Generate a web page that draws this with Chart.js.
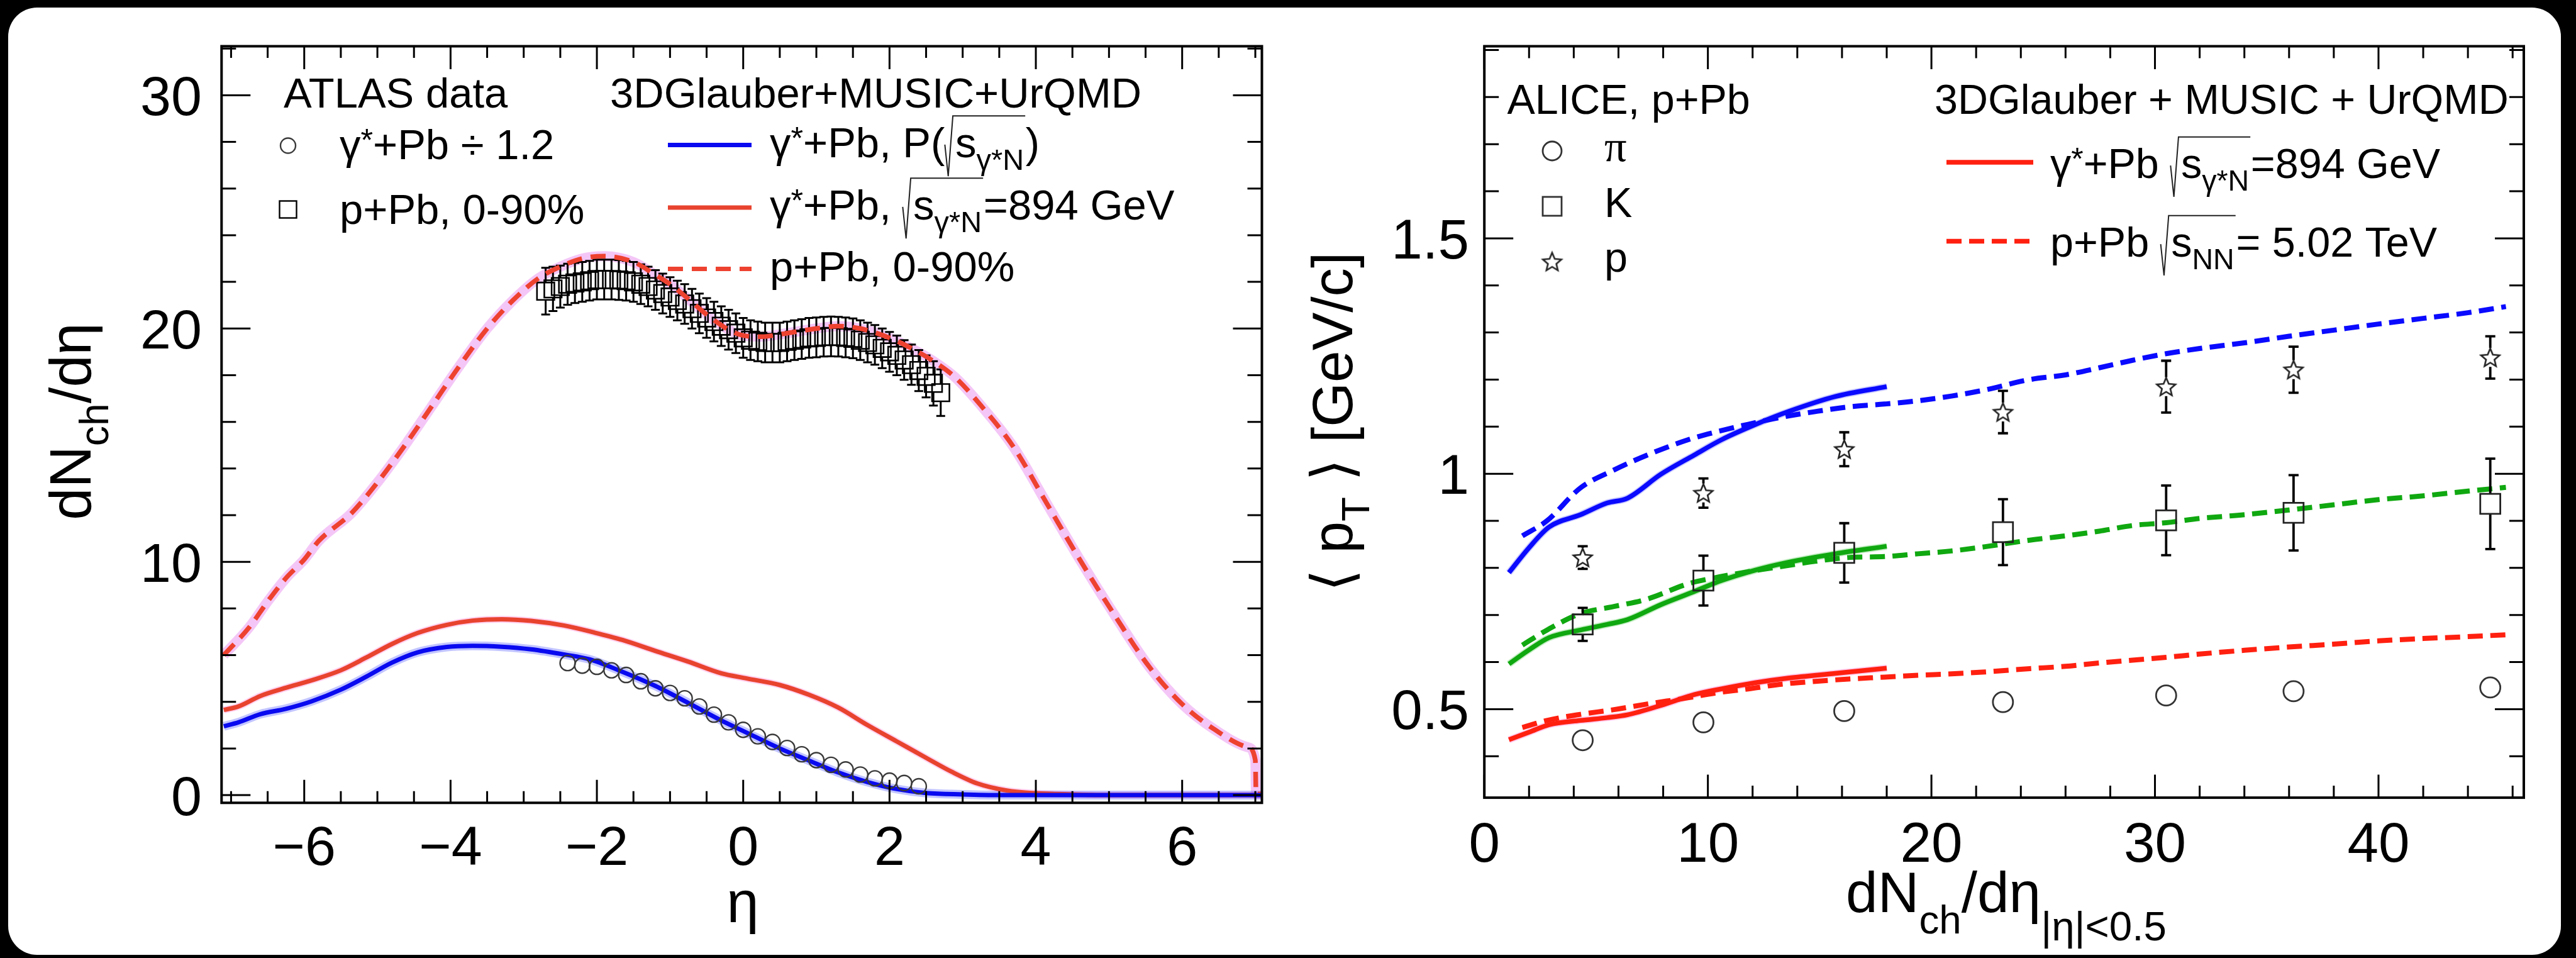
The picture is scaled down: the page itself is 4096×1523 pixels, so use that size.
<!DOCTYPE html>
<html>
<head>
<meta charset="utf-8">
<script src="https://cdn.jsdelivr.net/npm/chart.js@4.4.1/dist/chart.umd.min.js"></script>
<style>
  html, body { margin:0; padding:0; width:4096px; height:1523px; background:#000; overflow:hidden; }
  #panel { position:absolute; left:13px; top:12px; width:4059px; height:1506px; background:#fff; border-radius:46px; }
  canvas { position:absolute; left:0; top:0; }
</style>
</head>
<body>
<div id="panel"></div>
<canvas id="leftChart" width="4096" height="1523"></canvas>
<canvas id="rightChart" width="4096" height="1523"></canvas>
<script>
// ================= DATA: left panel (dNch/deta vs eta) =================
const etaPPbModel   = [-7.1,-6.75,-6.5,-6.25,-6.0,-5.8,-5.35,-5.0,-4.6,-4.25,-3.9,-3.5,-3.15,-2.8,-2.5,-2.2,-1.9,-1.5,-1.2,-1.0,-0.8,-0.5,-0.2,0.0,0.25,0.5,1.0,1.3,1.6,2.0,2.3,2.6,2.9,3.25,3.7,4.15,4.6,5.1,5.55,6.0,6.45,6.9,7.0,7.01,7.09];
const dndetaPPbModel = [6.0,7.2,8.3,9.3,10.1,10.9,12.1,13.4,15.1,16.7,18.3,20.0,21.2,22.15,22.65,23.0,23.1,22.85,22.3,21.9,21.4,20.6,19.95,19.7,19.65,19.75,20.0,20.1,20.0,19.6,19.15,18.6,17.9,16.7,14.9,12.5,10.1,7.6,5.5,3.9,2.8,2.05,1.5,0.05,0.05];

const etaGamma894    = [-7.1,-6.9,-6.6,-6.25,-5.9,-5.5,-5.15,-4.8,-4.45,-4.05,-3.7,-3.3,-2.9,-2.45,-2.05,-1.65,-1.2,-0.75,-0.3,0.05,0.5,0.9,1.3,1.7,2.1,2.5,2.85,3.2,3.6,4.0,4.5,5.0,7.09];
const dndetaGamma894 = [3.65,3.8,4.25,4.6,4.92,5.35,5.9,6.48,6.95,7.3,7.48,7.54,7.47,7.27,6.98,6.65,6.18,5.72,5.22,5.0,4.72,4.3,3.75,3.0,2.3,1.6,1.0,0.5,0.2,0.08,0.03,0.0,0.0];

const etaGammaP    = [-7.1,-6.9,-6.6,-6.25,-5.9,-5.5,-5.15,-4.8,-4.45,-4.05,-3.7,-3.3,-2.9,-2.45,-2.1,-1.7,-1.2,-0.75,-0.3,0.0,0.5,0.9,1.3,1.7,2.1,2.5,3.0,3.5,7.09];
const dndetaGammaP = [2.95,3.12,3.47,3.7,4.02,4.52,5.08,5.68,6.12,6.35,6.4,6.36,6.25,6.03,5.82,5.35,4.68,3.95,3.2,2.75,2.0,1.48,0.97,0.56,0.26,0.09,0.03,0.0,0.0];

const etaAtlasGamma    = [-2.4,-2.2,-2.0,-1.8,-1.6,-1.4,-1.2,-1.0,-0.8,-0.6,-0.4,-0.2,0.0,0.2,0.4,0.6,0.8,1.0,1.2,1.4,1.6,1.8,2.0,2.2,2.4];
const dndetaAtlasGamma = [5.66,5.55,5.5,5.35,5.15,4.88,4.58,4.38,4.15,3.8,3.45,3.12,2.8,2.52,2.28,2.02,1.75,1.5,1.3,1.1,0.88,0.72,0.62,0.52,0.38];

const etaAtlasPPb    = [-2.7,-2.6,-2.5,-2.4,-2.3,-2.2,-2.1,-2.0,-1.9,-1.8,-1.7,-1.6,-1.5,-1.4,-1.3,-1.2,-1.1,-1.0,-0.9,-0.8,-0.7,-0.6,-0.5,-0.4,-0.3,-0.2,-0.1,0.0,0.1,0.2,0.3,0.4,0.5,0.6,0.7,0.8,0.9,1.0,1.1,1.2,1.3,1.4,1.5,1.6,1.7,1.8,1.9,2.0,2.1,2.2,2.3,2.4,2.5,2.6,2.7];
const dndetaAtlasPPb = [21.6,21.7,21.8,21.9,21.95,22.0,22.05,22.1,22.1,22.1,22.08,22.05,22.0,21.9,21.8,21.65,21.5,21.35,21.2,21.05,20.85,20.65,20.45,20.3,20.1,19.95,19.8,19.6,19.5,19.45,19.4,19.4,19.4,19.45,19.5,19.55,19.6,19.62,19.65,19.66,19.65,19.62,19.58,19.5,19.4,19.3,19.15,19.0,18.85,18.65,18.45,18.2,17.95,17.65,17.25];
const errAtlasPPb    = [1.0,0.95,0.9,0.88,0.86,0.85,0.85,0.85,0.85,0.85,0.85,0.85,0.85,0.85,0.85,0.85,0.85,0.85,0.85,0.85,0.85,0.85,0.85,0.85,0.85,0.85,0.85,0.85,0.85,0.85,0.85,0.85,0.85,0.85,0.85,0.85,0.85,0.85,0.85,0.85,0.85,0.85,0.85,0.85,0.85,0.85,0.85,0.85,0.85,0.85,0.86,0.88,0.9,0.95,1.0];

const leftXTickValues = [-6,-4,-2,0,2,4,6];
const leftXTickLabels = ['\u22126','\u22124','\u22122','0','2','4','6'];
const leftYTickValues = [0,10,20,30];
const leftYTickLabels = ['0','10','20','30'];

// ================= DATA: right panel (<pT> vs dNch/deta) =================
const nchAlice   = [4.4, 9.8, 16.1, 23.2, 30.5, 36.2, 45.0];
const ptPion     = [0.434, 0.472, 0.496, 0.515, 0.529, 0.538, 0.546];
const ptKaon     = [0.680, 0.773, 0.832, 0.876, 0.901, 0.917, 0.936];
const errKaon    = [0.035, 0.053, 0.063, 0.070, 0.074, 0.080, 0.096];
const ptProton   = [0.822, 0.959, 1.052, 1.131, 1.185, 1.221, 1.247];
const errProton  = [0.024, 0.031, 0.036, 0.045, 0.055, 0.049, 0.045];

const nchGamma        = [1.1, 2.0, 2.9, 4.3, 5.5, 6.4, 7.9, 9.4, 10.6, 12.1, 13.6, 15.7, 18.0];
const ptGammaPion     = [0.435, 0.451, 0.467, 0.476, 0.482, 0.488, 0.508, 0.531, 0.543, 0.556, 0.566, 0.576, 0.587];
const ptGammaKaon     = [0.596, 0.626, 0.652, 0.668, 0.680, 0.690, 0.722, 0.750, 0.773, 0.795, 0.812, 0.830, 0.846];
const ptGammaProton   = [0.790, 0.843, 0.887, 0.913, 0.938, 0.948, 0.999, 1.040, 1.072, 1.104, 1.132, 1.164, 1.185];

const nchPPb        = [1.7, 2.8, 4.3, 5.8, 7.3, 9.1, 10.3, 11.8, 13.3, 14.8, 16.3, 17.9, 19.4, 20.9, 22.4, 24.4, 26.0, 27.5, 29.0, 30.5, 32.0, 34.0, 36.0, 38.0, 40.0, 42.0, 44.0, 45.7];
const ptPPbPion     = [0.461, 0.476, 0.489, 0.499, 0.511, 0.524, 0.534, 0.543, 0.553, 0.559, 0.564, 0.568, 0.572, 0.575, 0.579, 0.586, 0.591, 0.598, 0.604, 0.610, 0.617, 0.625, 0.632, 0.638, 0.645, 0.650, 0.654, 0.658];
const ptPPbKaon     = [0.636, 0.668, 0.703, 0.718, 0.734, 0.766, 0.779, 0.792, 0.803, 0.814, 0.822, 0.824, 0.830, 0.836, 0.845, 0.859, 0.868, 0.878, 0.890, 0.896, 0.905, 0.913, 0.923, 0.934, 0.945, 0.953, 0.963, 0.971];
const ptPPbProton   = [0.868, 0.900, 0.970, 1.008, 1.040, 1.072, 1.088, 1.105, 1.120, 1.132, 1.142, 1.148, 1.155, 1.165, 1.178, 1.200, 1.210, 1.225, 1.241, 1.255, 1.266, 1.278, 1.292, 1.305, 1.318, 1.330, 1.342, 1.355];

const rightXTickValues = [0,10,20,30,40];
const rightXTickLabels = ['0','10','20','30','40'];
const rightYTickValues = [0.5,1,1.5];
const rightYTickLabels = ['0.5','1','1.5'];

// ================= helpers =================
const FONT  = '"Liberation Sans", Arial, Helvetica, "DejaVu Sans", sans-serif';
const SERIF = '"Liberation Serif", "Times New Roman", "DejaVu Serif", serif';
const xy = (xs, ys) => xs.map((x, i) => ({ x, y: ys[i] }));

function drawRich(ctx, segs, x, y, size, doDraw = true) {
  let cx = x;
  for (const seg of segs) {
    const [type, content, opt] = seg;
    if (type === 'sqrt') {
      const x0 = cx;
      const innerStart = x0 + size * 0.25;
      const innerEnd = drawRich(ctx, content, innerStart, y, size, doDraw);
      if (doDraw) {
        ctx.save();
        ctx.lineWidth = Math.max(1.6, size * 0.03);
        ctx.strokeStyle = '#222';
        ctx.beginPath();
        ctx.moveTo(x0, y - size * 0.30);
        ctx.lineTo(x0 + size * 0.08, y + size * 0.45);
        ctx.lineTo(x0 + size * 0.19, y - size * 0.98);
        ctx.lineTo(innerEnd + size * 0.03, y - size * 0.98);
        ctx.stroke();
        ctx.restore();
      }
      cx = innerEnd + size * 0.04;
      continue;
    }
    let s = size, dy = 0, fam = FONT;
    if (type === 'sub') { s = size * ((opt && opt.s) || 0.7); dy = size * ((opt && opt.dy) || 0.3); }
    else if (type === 'sup') { s = size * 0.75; dy = -size * 0.2; }
    else if (type === 'serif') { fam = SERIF; }
    ctx.font = `${s}px ${fam}`;
    if (doDraw) ctx.fillText(content, cx, y + dy);
    cx += ctx.measureText(content).width;
  }
  return cx;
}
function richWidth(ctx, segs, size) { return drawRich(ctx, segs, 0, 0, size, false); }
function drawRichCentered(ctx, segs, cx, y, size) { const w = richWidth(ctx, segs, size); drawRich(ctx, segs, cx - w / 2, y, size); }
function drawRichRotated(ctx, segs, bx, cy, size) {
  const w = richWidth(ctx, segs, size);
  ctx.save(); ctx.translate(bx, cy); ctx.rotate(-Math.PI / 2);
  drawRich(ctx, segs, -w / 2, 0, size);
  ctx.restore();
}

function makeStar(R, lw, color) {
  const c = document.createElement('canvas');
  const S = Math.ceil(2 * R + 2 * lw + 4);
  c.width = S; c.height = S;
  const g = c.getContext('2d');
  const cx = S / 2, cy = S / 2 + R * 0.08, r = R * 0.45;
  g.beginPath();
  for (let i = 0; i < 10; i++) {
    const ang = -Math.PI / 2 + i * Math.PI / 5;
    const rr = i % 2 === 0 ? R : r;
    const px = cx + rr * Math.cos(ang), py = cy + rr * Math.sin(ang);
    if (i) g.lineTo(px, py); else g.moveTo(px, py);
  }
  g.closePath(); g.lineWidth = lw; g.strokeStyle = color; g.stroke();
  return c;
}
const starImg = makeStar(15.5, 2.6, '#222');

function drawAxes(chart, spec) {
  const { ctx, chartArea: a } = chart;
  const xs = chart.scales.x, ys = chart.scales.y;
  const eps = 1e-6;
  ctx.save();
  ctx.strokeStyle = '#000';
  ctx.lineWidth = spec.tickWidth;
  ctx.beginPath();
  for (let k = Math.ceil(xs.min / spec.xMinor - eps); k * spec.xMinor <= xs.max + eps; k++) {
    const v = k * spec.xMinor;
    const major = Math.abs(v / spec.xMajor - Math.round(v / spec.xMajor)) < 1e-6;
    const L = major ? spec.xMajLen : spec.xMinLen;
    const px = xs.getPixelForValue(v);
    ctx.moveTo(px, a.bottom); ctx.lineTo(px, a.bottom - L);
    ctx.moveTo(px, a.top); ctx.lineTo(px, a.top + L);
  }
  for (let k = Math.ceil(ys.min / spec.yMinor - eps); k * spec.yMinor <= ys.max + eps; k++) {
    const v = k * spec.yMinor;
    const major = Math.abs(v / spec.yMajor - Math.round(v / spec.yMajor)) < 1e-6;
    const L = major ? spec.yMajLen : spec.yMinLen;
    const py = ys.getPixelForValue(v);
    ctx.moveTo(a.left, py); ctx.lineTo(a.left + L, py);
    ctx.moveTo(a.right, py); ctx.lineTo(a.right - L, py);
  }
  ctx.stroke();
  ctx.lineWidth = spec.frameWidth;
  ctx.strokeRect(a.left, a.top, a.right - a.left, a.bottom - a.top);

  ctx.fillStyle = '#000';
  ctx.textBaseline = 'alphabetic';
  ctx.font = `${spec.labelSize}px ${FONT}`;
  ctx.textAlign = 'center';
  spec.xTickValues.forEach((v, i) => ctx.fillText(spec.xTickLabels[i], xs.getPixelForValue(v), spec.xLabelBaseline));
  ctx.textAlign = 'right';
  spec.yTickValues.forEach((v, i) => ctx.fillText(spec.yTickLabels[i], spec.yLabelRight, ys.getPixelForValue(v) + spec.labelSize * 0.358));
  ctx.textAlign = 'left';
  ctx.restore();
}

const errorBarPlugin = {
  id: 'errBars',
  beforeDatasetDraw(chart, args) {
    const ds = chart.data.datasets[args.index];
    if (!ds.yErr) return;
    const { ctx } = chart; const xs = chart.scales.x, ys = chart.scales.y;
    ctx.save();
    ctx.strokeStyle = '#000'; ctx.lineWidth = ds.errWidth;
    ctx.beginPath();
    ds.data.forEach((p, i) => {
      const e = ds.yErr[i]; if (!e) return;
      const px = xs.getPixelForValue(p.x), py = ys.getPixelForValue(p.y);
      const yt = ys.getPixelForValue(p.y + e), yb = ys.getPixelForValue(p.y - e);
      const g = ds.errGap, c = ds.capHalf;
      if (py - g > yt) { ctx.moveTo(px, py - g); ctx.lineTo(px, yt); }
      if (py + g < yb) { ctx.moveTo(px, py + g); ctx.lineTo(px, yb); }
      ctx.moveTo(px - c, yt); ctx.lineTo(px + c, yt);
      ctx.moveTo(px - c, yb); ctx.lineTo(px + c, yb);
    });
    ctx.stroke(); ctx.restore();
  }
};

function lineDs(label, xs, ys, color, width, order, dash) {
  return { label, data: xy(xs, ys), showLine: true, pointRadius: 0, borderColor: color, borderWidth: width,
           borderDash: dash || [], cubicInterpolationMode: 'monotone', fill: false, order, borderCapStyle: 'butt' };
}

const commonOpts = (padding, xr, yr) => ({
  responsive: false, animation: false, devicePixelRatio: 1, events: [],
  layout: { padding },
  scales: {
    x: { type: 'linear', min: xr[0], max: xr[1], display: false },
    y: { type: 'linear', min: yr[0], max: yr[1], display: false }
  },
  plugins: { legend: { display: false }, tooltip: { enabled: false } }
});

// ================= LEFT CHART =================
const LRED = '#e8432f', LBLUE = '#0a0af0', LDASH = '#ee4230';
const leftDecor = {
  id: 'leftDecor',
  afterDraw(chart) {
    const ctx = chart.ctx;
    drawAxes(chart, {
      tickWidth: 3, frameWidth: 4,
      xMinor: 0.5, xMajor: 2, xMajLen: 36.5, xMinLen: 18.5,
      yMinor: 2, yMajor: 10, yMajLen: 46, yMinLen: 23,
      labelSize: 88, xTickValues: leftXTickValues, xTickLabels: leftXTickLabels, xLabelBaseline: 1375,
      yTickValues: leftYTickValues, yTickLabels: leftYTickLabels, yLabelRight: 321
    });
    ctx.save();
    ctx.fillStyle = '#000'; ctx.textAlign = 'left'; ctx.textBaseline = 'alphabetic';
    drawRichCentered(ctx, [['n', '\u03b7']], 1181, 1466, 92);
    drawRichRotated(ctx, [['n', 'dN'], ['sub', 'ch', { dy: 0.3, s: 0.7 }], ['n', '/d\u03b7']], 144, 670, 92);
    const F = 67;
    drawRich(ctx, [['n', 'ATLAS data']], 451, 171, F);
    drawRich(ctx, [['n', '3DGlauber+MUSIC+UrQMD']], 970, 171, F);
    ctx.strokeStyle = '#3a3a3a'; ctx.lineWidth = 2.4;
    ctx.beginPath(); ctx.arc(458, 231.5, 12, 0, Math.PI * 2); ctx.stroke();
    drawRich(ctx, [['n', '\u03b3'], ['sup', '*'], ['n', '+Pb \u00f7 1.2']], 540, 253.4, F);
    ctx.strokeStyle = '#000';
    ctx.strokeRect(458 - 13.5, 333 - 13.5, 27, 27);
    drawRich(ctx, [['n', 'p+Pb, 0-90%']], 540, 355.5, F);
    ctx.lineWidth = 7;
    ctx.strokeStyle = LBLUE; ctx.beginPath(); ctx.moveTo(1062, 230.6); ctx.lineTo(1195, 230.6); ctx.stroke();
    ctx.strokeStyle = LRED; ctx.beginPath(); ctx.moveTo(1062, 330); ctx.lineTo(1195, 330); ctx.stroke();
    ctx.setLineDash([24, 14]); ctx.strokeStyle = LDASH;
    ctx.beginPath(); ctx.moveTo(1062, 427.5); ctx.lineTo(1195, 427.5); ctx.stroke();
    ctx.setLineDash([]);
    drawRich(ctx, [['n', '\u03b3'], ['sup', '*'], ['n', '+Pb, P('], ['sqrt', [['n', 's'], ['sub', '\u03b3*N']]], ['n', ')']], 1224, 250, F);
    drawRich(ctx, [['n', '\u03b3'], ['sup', '*'], ['n', '+Pb, '], ['sqrt', [['n', 's'], ['sub', '\u03b3*N']]], ['n', '=894 GeV']], 1224, 349, F);
    drawRich(ctx, [['n', 'p+Pb, 0-90%']], 1224, 446.6, F);
    ctx.restore();
  }
};

new Chart(document.getElementById('leftChart'), {
  type: 'scatter',
  data: {
    datasets: [
      lineDs('p+Pb band', etaPPbModel, dndetaPPbModel, 'rgba(236,160,242,0.6)', 16, 10),
      lineDs('gamma P band', etaGammaP, dndetaGammaP, 'rgba(80,90,255,0.35)', 14, 9),
      lineDs('gamma 894 band', etaGamma894, dndetaGamma894, 'rgba(255,90,200,0.28)', 11, 9),
      { label: 'ATLAS p+Pb 0-90%', data: xy(etaAtlasPPb, dndetaAtlasPPb), yErr: errAtlasPPb, errGap: 13.5, capHalf: 7, errWidth: 3,
        pointStyle: 'rect', pointRadius: 19.5, pointBorderWidth: 2.6, pointBorderColor: '#000', pointBackgroundColor: 'rgba(0,0,0,0)', order: 8 },
      lineDs('p+Pb 0-90% model', etaPPbModel, dndetaPPbModel, LDASH, 7.5, 7, [24, 14]),
      lineDs('gamma*+Pb 894 GeV', etaGamma894, dndetaGamma894, LRED, 7, 6),
      lineDs('gamma*+Pb P(sqrt s)', etaGammaP, dndetaGammaP, LBLUE, 7, 5),
      { label: 'ATLAS gamma*+Pb / 1.2', data: xy(etaAtlasGamma, dndetaAtlasGamma), pointStyle: 'circle', pointRadius: 12,
        pointBorderWidth: 2.4, pointBorderColor: '#3a3a3a', pointBackgroundColor: 'rgba(0,0,0,0)', order: 4 }
    ]
  },
  options: commonOpts({ left: 352.3, right: 4096 - 2006.5, top: 73.5, bottom: 1523 - 1276.3 }, [-7.13, 7.09], [-0.33, 32.1]),
  plugins: [errorBarPlugin, leftDecor]
});

// ================= RIGHT CHART =================
const RRED = '#ff2010', RGREEN = '#10a810', RBLUE = '#0a0aff';
const rightDecor = {
  id: 'rightDecor',
  afterDraw(chart) {
    const ctx = chart.ctx;
    drawAxes(chart, {
      tickWidth: 3, frameWidth: 4,
      xMinor: 2, xMajor: 10, xMajLen: 36.5, xMinLen: 19,
      yMinor: 0.1, yMajor: 0.5, yMajLen: 46, yMinLen: 23,
      labelSize: 89, xTickValues: rightXTickValues, xTickLabels: rightXTickLabels, xLabelBaseline: 1370,
      yTickValues: rightYTickValues, yTickLabels: rightYTickLabels, yLabelRight: 2336
    });
    ctx.save();
    ctx.fillStyle = '#000'; ctx.textAlign = 'left'; ctx.textBaseline = 'alphabetic';
    drawRichCentered(ctx, [['n', 'dN'], ['sub', 'ch', { dy: 0.38, s: 0.7 }], ['n', '/d\u03b7'], ['sub', '|\u03b7|<0.5', { dy: 0.5, s: 0.72 }]], 3190, 1449.5, 91);
    drawRichRotated(ctx, [['n', '\u27e8 p'], ['sub', 'T', { dy: 0.3, s: 0.7 }], ['n', ' \u27e9 [GeV/c]']], 2150, 670.5, 91);
    const F = 66.5;
    drawRich(ctx, [['n', 'ALICE, p+Pb']], 2396.5, 181, F);
    drawRich(ctx, [['n', '3DGlauber + MUSIC + UrQMD']], 3076, 181, F);
    ctx.strokeStyle = '#333'; ctx.lineWidth = 2.8;
    ctx.beginPath(); ctx.arc(2468, 240, 15, 0, Math.PI * 2); ctx.stroke();
    drawRich(ctx, [['serif', '\u03c0']], 2551, 256, F + 4);
    ctx.strokeRect(2468 - 15, 328 - 15, 30, 30);
    drawRich(ctx, [['n', 'K']], 2551, 344.5, F);
    ctx.drawImage(starImg, 2468 - starImg.width / 2, 416 - starImg.height / 2);
    drawRich(ctx, [['n', 'p']], 2551, 432, F);
    ctx.lineWidth = 7.5; ctx.strokeStyle = RRED;
    ctx.beginPath(); ctx.moveTo(3095, 258); ctx.lineTo(3233, 258); ctx.stroke();
    ctx.setLineDash([24, 12]);
    ctx.beginPath(); ctx.moveTo(3095, 383.5); ctx.lineTo(3233, 383.5); ctx.stroke();
    ctx.setLineDash([]);
    drawRich(ctx, [['n', '\u03b3'], ['sup', '*'], ['n', '+Pb '], ['sqrt', [['n', 's'], ['sub', '\u03b3*N']]], ['n', '=894 GeV']], 3260, 283, F);
    drawRich(ctx, [['n', 'p+Pb '], ['sqrt', [['n', 's'], ['sub', 'NN']]], ['n', '= 5.02 TeV']], 3260, 408, F);
    ctx.restore();
  }
};

new Chart(document.getElementById('rightChart'), {
  type: 'scatter',
  data: {
    datasets: [
      lineDs('gamma pion halo', nchGamma, ptGammaPion, 'rgba(255,80,200,0.3)', 11, 12),
      lineDs('gamma kaon halo', nchGamma, ptGammaKaon, 'rgba(60,200,60,0.3)', 11, 12),
      lineDs('gamma proton halo', nchGamma, ptGammaProton, 'rgba(80,80,255,0.3)', 11, 12),
      lineDs('p+Pb pion', nchPPb, ptPPbPion, RRED, 8, 10, [24, 12]),
      lineDs('p+Pb kaon', nchPPb, ptPPbKaon, RGREEN, 8, 10, [24, 12]),
      lineDs('p+Pb proton', nchPPb, ptPPbProton, RBLUE, 8, 10, [24, 12]),
      lineDs('gamma*+Pb pion', nchGamma, ptGammaPion, RRED, 7.5, 9),
      lineDs('gamma*+Pb kaon', nchGamma, ptGammaKaon, RGREEN, 7.5, 9),
      lineDs('gamma*+Pb proton', nchGamma, ptGammaProton, RBLUE, 7.5, 9),
      { label: 'ALICE pi', data: xy(nchAlice, ptPion), pointStyle: 'circle', pointRadius: 16,
        pointBorderWidth: 2.8, pointBorderColor: '#333', pointBackgroundColor: 'rgba(0,0,0,0)', order: 3 },
      { label: 'ALICE K', data: xy(nchAlice, ptKaon), yErr: errKaon, errGap: 16, capHalf: 8, errWidth: 3.8,
        pointStyle: 'rect', pointRadius: 22.5, pointBorderWidth: 2.8, pointBorderColor: '#222', pointBackgroundColor: 'rgba(0,0,0,0)', order: 2 },
      { label: 'ALICE p', data: xy(nchAlice, ptProton), yErr: errProton, errGap: 15, capHalf: 8, errWidth: 3.8,
        pointStyle: starImg, pointRadius: 16, order: 1 }
    ]
  },
  options: commonOpts({ left: 2360.2, right: 4096 - 4013, top: 73.5, bottom: 1523 - 1268.1 }, [0, 46.5], [0.312, 1.908]),
  plugins: [errorBarPlugin, rightDecor]
});
</script>
</body>
</html>
